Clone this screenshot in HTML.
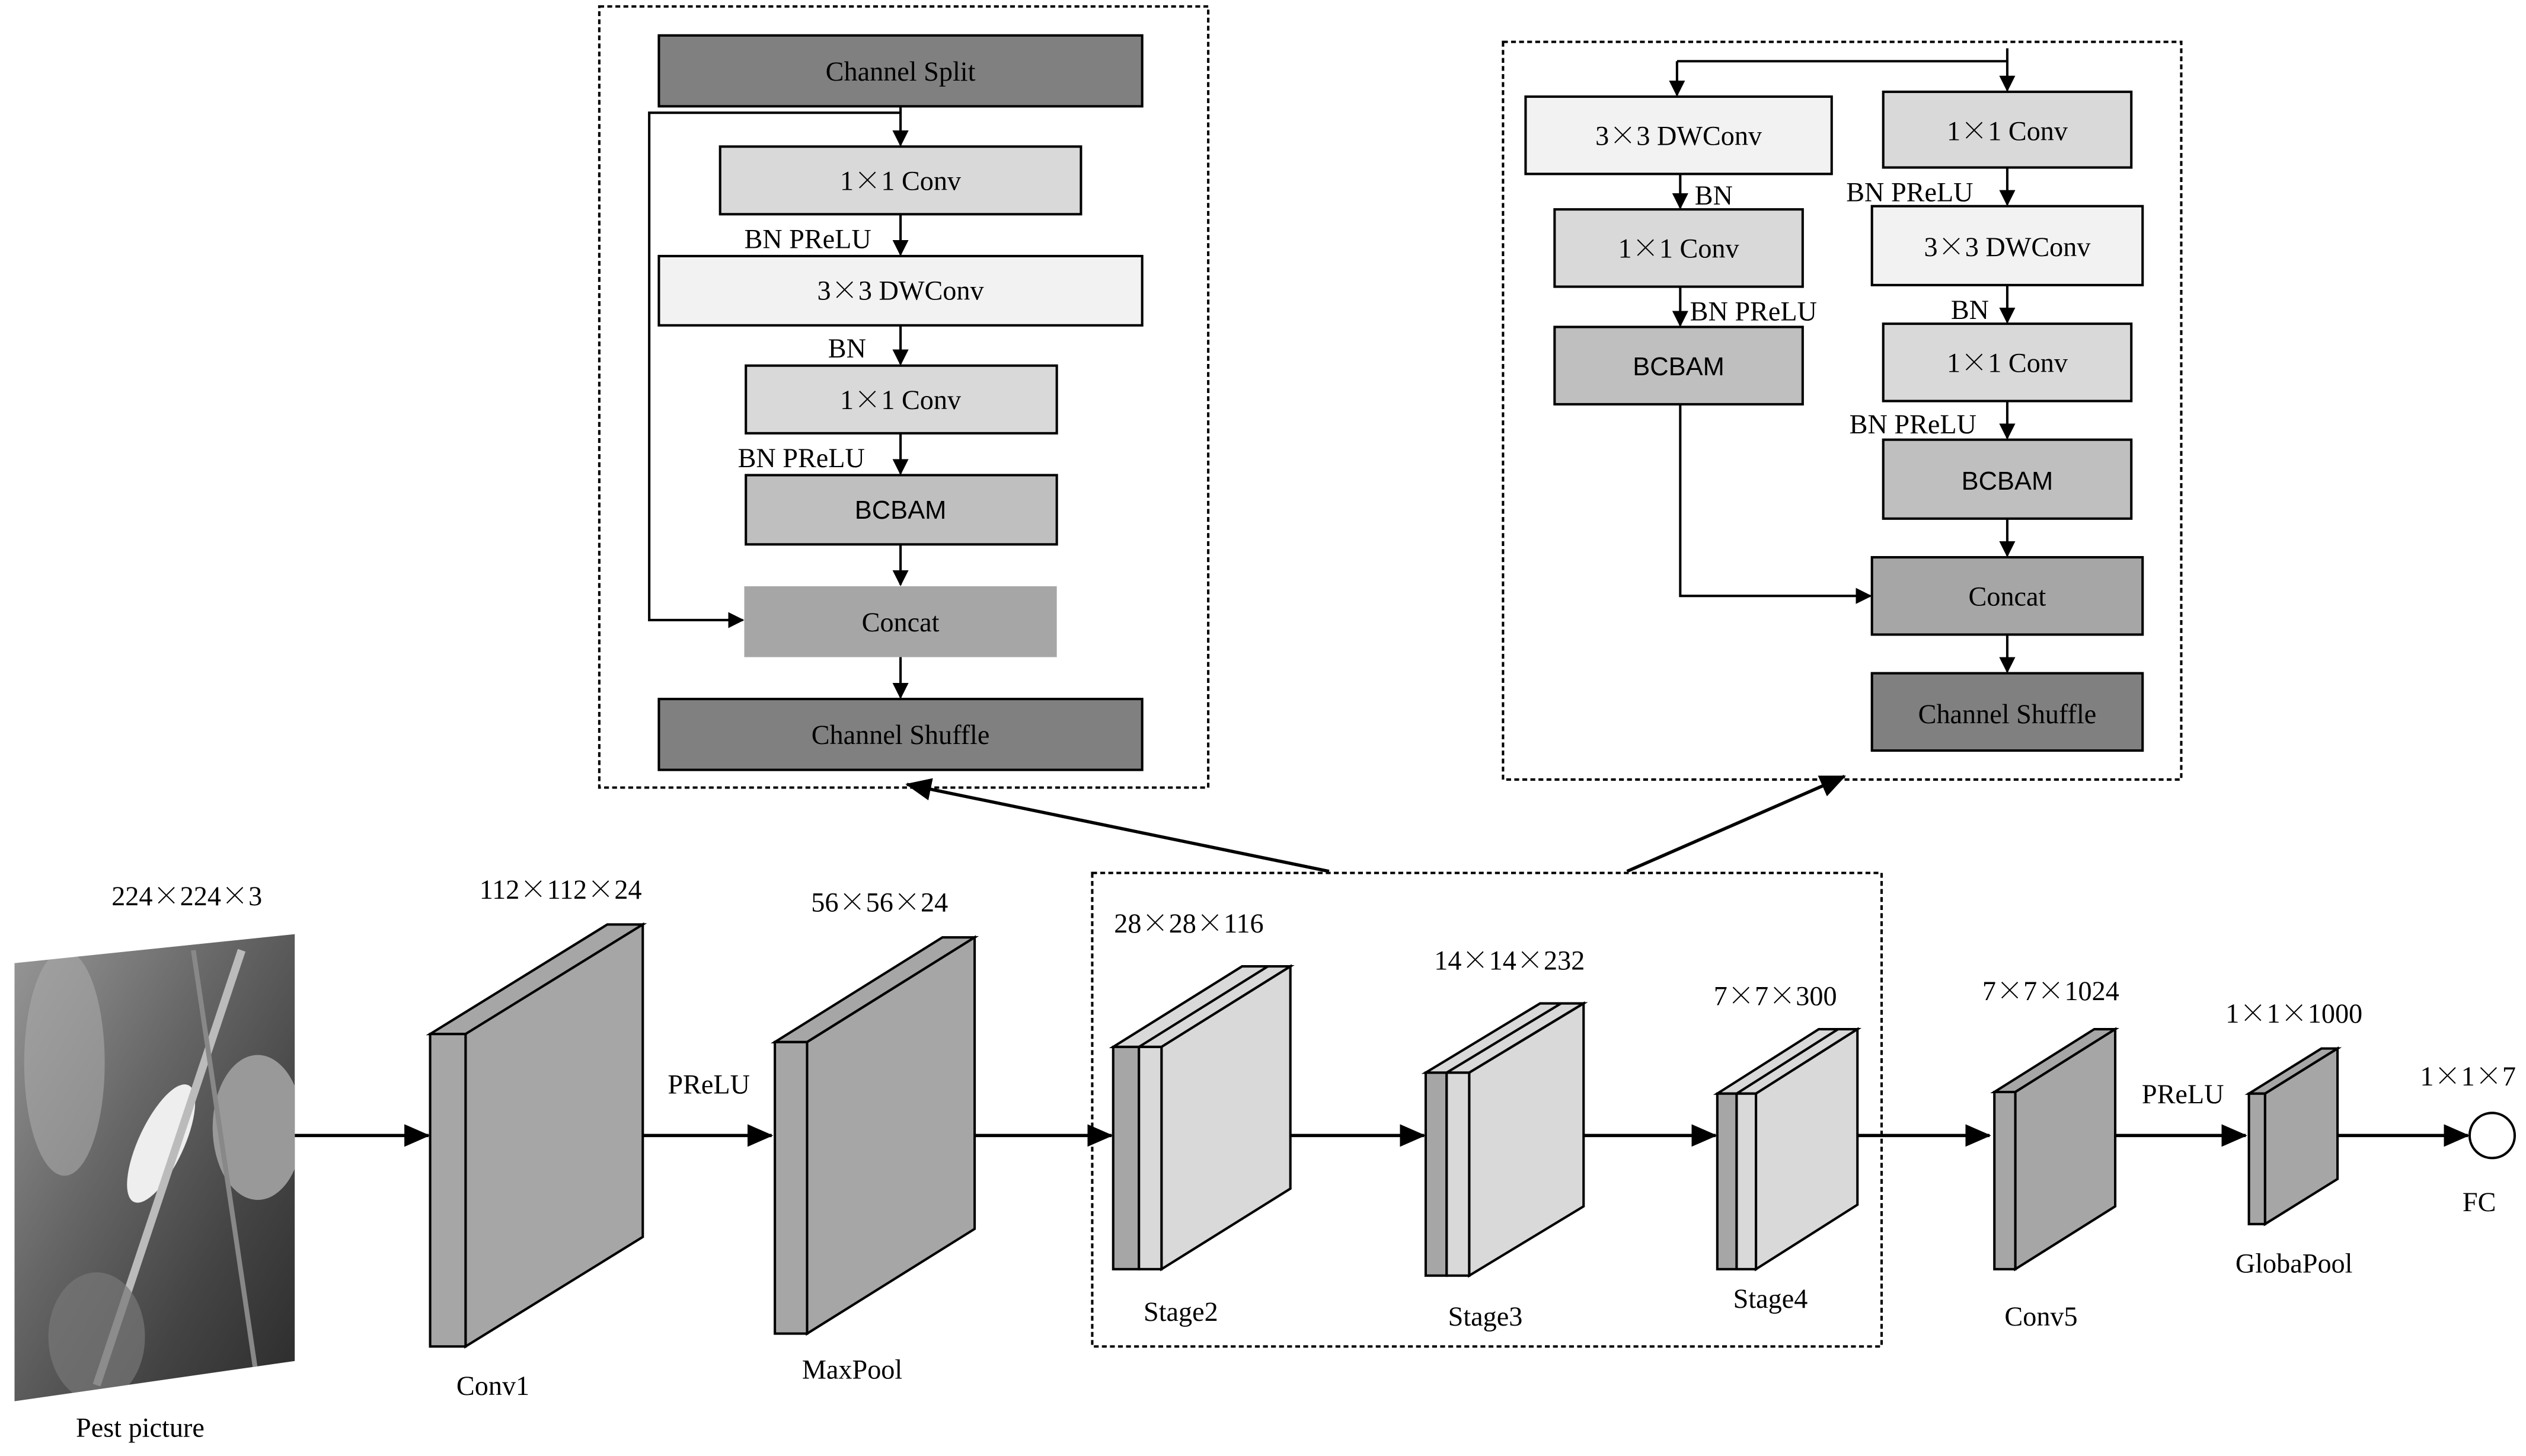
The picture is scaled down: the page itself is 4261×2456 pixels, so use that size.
<!DOCTYPE html>
<html><head><meta charset="utf-8"><style>html,body{margin:0;padding:0;background:#fff}svg{display:block}.x{font-family:"Noto Serif CJK SC",serif}</style></head>
<body>
<svg width="4261" height="2456" viewBox="0 0 1568 904" preserveAspectRatio="none" xmlns="http://www.w3.org/2000/svg" font-family="Liberation Serif, serif" font-size="17">
<defs>
<marker id="a" markerWidth="10" markerHeight="10" refX="9" refY="5" orient="auto" markerUnits="userSpaceOnUse"><path d="M0,0 L10,5 L0,10 z" fill="#000"/></marker>
<marker id="b" markerWidth="16" markerHeight="14" refX="15" refY="7" orient="auto" markerUnits="userSpaceOnUse"><path d="M0,0 L16,7 L0,14 z" fill="#000"/></marker>
<linearGradient id="g" x1="0" y1="0" x2="1" y2="1"><stop offset="0" stop-color="#999"/><stop offset="0.4" stop-color="#666"/><stop offset="0.7" stop-color="#444"/><stop offset="1" stop-color="#2a2a2a"/></linearGradient>
<clipPath id="pc"><polygon points="9,598 183,580 183,845 9,870"/></clipPath>
</defs>
<g stroke="#000" stroke-width="1.5" fill="none">
<rect x="372" y="4" width="378" height="485" stroke-dasharray="3,2"/>
<rect x="409" y="22" width="300" height="44" fill="#808080"/>
<rect x="447" y="91" width="224" height="42" fill="#d9d9d9"/>
<rect x="409" y="159" width="300" height="43" fill="#f2f2f2"/>
<rect x="463" y="227" width="193" height="42" fill="#d9d9d9"/>
<rect x="463" y="295" width="193" height="43" fill="#bfbfbf"/>
<rect x="462" y="364" width="194" height="44" fill="#a6a6a6" stroke="none"/>
<rect x="409" y="434" width="300" height="44" fill="#808080"/>
<g marker-end="url(#a)">
<line x1="559" y1="66" x2="559" y2="90"/>
<line x1="559" y1="133" x2="559" y2="158"/>
<line x1="559" y1="202" x2="559" y2="226"/>
<line x1="559" y1="269" x2="559" y2="294"/>
<line x1="559" y1="338" x2="559" y2="363"/>
<line x1="559" y1="408" x2="559" y2="433"/>
<polyline points="559,70 403,70 403,385 461,385"/>
</g>
<rect x="933" y="26" width="421" height="458" stroke-dasharray="3,2"/>
<rect x="947" y="60" width="190" height="48" fill="#f2f2f2"/>
<rect x="965" y="130" width="154" height="48" fill="#d9d9d9"/>
<rect x="965" y="203" width="154" height="48" fill="#bfbfbf"/>
<rect x="1169" y="57" width="154" height="47" fill="#d9d9d9"/>
<rect x="1162" y="128" width="168" height="49" fill="#f2f2f2"/>
<rect x="1169" y="201" width="154" height="48" fill="#d9d9d9"/>
<rect x="1169" y="273" width="154" height="49" fill="#bfbfbf"/>
<rect x="1162" y="346" width="168" height="48" fill="#a6a6a6"/>
<rect x="1162" y="418" width="168" height="48" fill="#808080"/>
<polyline points="1246,30 1246,38 1041,38"/>
<g marker-end="url(#a)">
<line x1="1041" y1="38" x2="1041" y2="59"/>
<line x1="1246" y1="38" x2="1246" y2="56"/>
<line x1="1043" y1="108" x2="1043" y2="129"/>
<line x1="1043" y1="178" x2="1043" y2="202"/>
<line x1="1246" y1="104" x2="1246" y2="127"/>
<line x1="1246" y1="177" x2="1246" y2="200"/>
<line x1="1246" y1="249" x2="1246" y2="272"/>
<line x1="1246" y1="322" x2="1246" y2="345"/>
<line x1="1246" y1="394" x2="1246" y2="417"/>
<polyline points="1043,251 1043,370 1161,370"/>
</g>
<rect x="678" y="542" width="490" height="294" stroke-dasharray="3,2"/>
</g>
<g stroke="#000" stroke-width="2" fill="none">
<line x1="825" y1="541" x2="563" y2="487" marker-end="url(#b)"/>
<line x1="1010" y1="541" x2="1145" y2="482" marker-end="url(#b)"/>
<line x1="183" y1="705" x2="266" y2="705" marker-end="url(#b)"/>
<line x1="399" y1="705" x2="479" y2="705" marker-end="url(#b)"/>
<line x1="605" y1="705" x2="690" y2="705" marker-end="url(#b)"/>
<line x1="801" y1="705" x2="884" y2="705" marker-end="url(#b)"/>
<line x1="983" y1="705" x2="1065" y2="705" marker-end="url(#b)"/>
<line x1="1153" y1="705" x2="1235" y2="705" marker-end="url(#b)"/>
<line x1="1313" y1="705" x2="1394" y2="705" marker-end="url(#b)"/>
<line x1="1451" y1="705" x2="1532" y2="705" marker-end="url(#b)"/>
</g>
<g clip-path="url(#pc)">
<rect x="9" y="575" width="175" height="300" fill="url(#g)"/>
<ellipse cx="40" cy="660" rx="25" ry="70" fill="#aaa" opacity="0.6"/>
<ellipse cx="100" cy="710" rx="14" ry="40" fill="#eee" transform="rotate(25 100 710)"/>
<ellipse cx="160" cy="700" rx="28" ry="45" fill="#999"/>
<line x1="60" y1="860" x2="150" y2="590" stroke="#bbb" stroke-width="5"/>
<line x1="120" y1="590" x2="160" y2="860" stroke="#888" stroke-width="3"/>
<ellipse cx="60" cy="830" rx="30" ry="40" fill="#777" opacity="0.7"/>
</g>
<g stroke="#000" stroke-width="1.5">
<polygon points="267,642 377,574 399,574 289,642" fill="#a6a6a6"/>
<polygon points="289,642 399,574 399,768 289,836" fill="#a6a6a6"/>
<rect x="267" y="642" width="22" height="194" fill="#a6a6a6"/>
<polygon points="481,647 585,582 605,582 501,647" fill="#a6a6a6"/>
<polygon points="501,647 605,582 605,763 501,828" fill="#a6a6a6"/>
<rect x="481" y="647" width="20" height="181" fill="#a6a6a6"/>
<polygon points="691,650 771,600 801,600 721,650" fill="#d9d9d9"/>
<line x1="707" y1="650" x2="787" y2="600"/>
<polygon points="721,650 801,600 801,738 721,788" fill="#d9d9d9"/>
<rect x="691" y="650" width="16" height="138" fill="#a6a6a6"/>
<rect x="707" y="650" width="14" height="138" fill="#d9d9d9"/>
<polygon points="885,666 956,623 983,623 912,666" fill="#d9d9d9"/>
<line x1="898" y1="666" x2="969" y2="623"/>
<polygon points="912,666 983,623 983,749 912,792" fill="#d9d9d9"/>
<rect x="885" y="666" width="13" height="126" fill="#a6a6a6"/>
<rect x="898" y="666" width="14" height="126" fill="#d9d9d9"/>
<polygon points="1066,679 1129,639 1153,639 1090,679" fill="#d9d9d9"/>
<line x1="1078" y1="679" x2="1141" y2="639"/>
<polygon points="1090,679 1153,639 1153,748 1090,788" fill="#d9d9d9"/>
<rect x="1066" y="679" width="12" height="109" fill="#a6a6a6"/>
<rect x="1078" y="679" width="12" height="109" fill="#d9d9d9"/>
<polygon points="1238,678 1300,639 1313,639 1251,678" fill="#a6a6a6"/>
<polygon points="1251,678 1313,639 1313,749 1251,788" fill="#a6a6a6"/>
<rect x="1238" y="678" width="13" height="110" fill="#a6a6a6"/>
<polygon points="1396,679 1441,651 1451,651 1406,679" fill="#a6a6a6"/>
<polygon points="1406,679 1451,651 1451,732 1406,760" fill="#a6a6a6"/>
<rect x="1396" y="679" width="10" height="81" fill="#a6a6a6"/>
<circle cx="1547" cy="705" r="14" fill="#fff"/>
</g>
<g text-anchor="middle" fill="#000">
<text x="559" y="50">Channel Split</text>
<text x="559" y="118">1<tspan class="x">×</tspan>1 Conv</text>
<text x="559" y="186">3<tspan class="x">×</tspan>3 DWConv</text>
<text x="559" y="254">1<tspan class="x">×</tspan>1 Conv</text>
<text x="559" y="322" font-family="Liberation Sans, sans-serif" font-size="16">BCBAM</text>
<text x="559" y="392">Concat</text>
<text x="559" y="462">Channel Shuffle</text>
<text x="1042" y="90">3<tspan class="x">×</tspan>3 DWConv</text>
<text x="1042" y="160">1<tspan class="x">×</tspan>1 Conv</text>
<text x="1042" y="233" font-family="Liberation Sans, sans-serif" font-size="16">BCBAM</text>
<text x="1246" y="87">1<tspan class="x">×</tspan>1 Conv</text>
<text x="1246" y="159">3<tspan class="x">×</tspan>3 DWConv</text>
<text x="1246" y="231">1<tspan class="x">×</tspan>1 Conv</text>
<text x="1246" y="304" font-family="Liberation Sans, sans-serif" font-size="16">BCBAM</text>
<text x="1246" y="376">Concat</text>
<text x="1246" y="449">Channel Shuffle</text>
<text x="116" y="562">224<tspan class="x">×</tspan>224<tspan class="x">×</tspan>3</text>
<text x="87" y="892">Pest picture</text>
<text x="348" y="558">112<tspan class="x">×</tspan>112<tspan class="x">×</tspan>24</text>
<text x="306" y="866">Conv1</text>
<text x="440" y="679">PReLU</text>
<text x="546" y="566">56<tspan class="x">×</tspan>56<tspan class="x">×</tspan>24</text>
<text x="529" y="856">MaxPool</text>
<text x="738" y="579">28<tspan class="x">×</tspan>28<tspan class="x">×</tspan>116</text>
<text x="733" y="820">Stage2</text>
<text x="937" y="602">14<tspan class="x">×</tspan>14<tspan class="x">×</tspan>232</text>
<text x="922" y="823">Stage3</text>
<text x="1102" y="624">7<tspan class="x">×</tspan>7<tspan class="x">×</tspan>300</text>
<text x="1099" y="812">Stage4</text>
<text x="1273" y="621">7<tspan class="x">×</tspan>7<tspan class="x">×</tspan>1024</text>
<text x="1267" y="823">Conv5</text>
<text x="1355" y="685">PReLU</text>
<text x="1424" y="635">1<tspan class="x">×</tspan>1<tspan class="x">×</tspan>1000</text>
<text x="1424" y="790">GlobaPool</text>
<text x="1532" y="674">1<tspan class="x">×</tspan>1<tspan class="x">×</tspan>7</text>
<text x="1539" y="752">FC</text>
</g>
<g fill="#000">
<text x="462" y="154">BN PReLU</text>
<text x="514" y="222">BN</text>
<text x="458" y="290">BN PReLU</text>
<text x="1052" y="127">BN</text>
<text x="1049" y="199">BN PReLU</text>
<text x="1146" y="125">BN PReLU</text>
<text x="1211" y="198">BN</text>
<text x="1148" y="269">BN PReLU</text>
</g>
</svg>
</body></html>
